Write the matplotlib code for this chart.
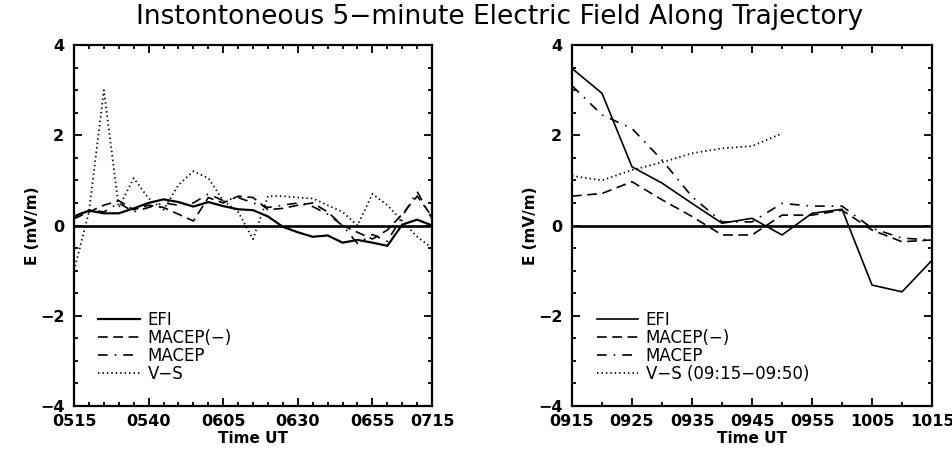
import matplotlib
matplotlib.use("Agg")
import matplotlib.pyplot as plt
from matplotlib.ticker import FixedLocator, MultipleLocator, FixedFormatter

plt.rcParams['font.family'] = ['DejaVu Sans']
plt.rcParams['lines.scale_dashes'] = False

# ---------------- data: left panel (05:15-07:15) ----------------
left_times = ["0515", "0520", "0525", "0530", "0535", "0540", "0545", "0550", "0555",
              "0600", "0605", "0610", "0615", "0620", "0625", "0630", "0635", "0640",
              "0645", "0650", "0655", "0700", "0705", "0710", "0715"]
left_efi = [0.20, 0.33, 0.27, 0.27, 0.38, 0.50, 0.58, 0.52, 0.42,
            0.52, 0.43, 0.36, 0.34, 0.20, -0.03, -0.15, -0.25, -0.22,
            -0.38, -0.32, -0.38, -0.45, 0.02, 0.13, 0.00]
left_macep_neg = [0.15, 0.30, 0.45, 0.55, 0.35, 0.45, 0.40, 0.25, 0.10,
                  0.62, 0.50, 0.65, 0.62, 0.35, 0.38, 0.45, 0.50, 0.30,
                  0.00, -0.15, -0.30, -0.10, 0.25, 0.65, 0.20]
left_macep = [0.20, 0.35, 0.30, 0.50, 0.30, 0.40, 0.50, 0.45, 0.50,
              0.70, 0.55, 0.62, 0.50, 0.40, 0.45, 0.50, 0.42, 0.25,
              0.00, -0.40, -0.20, -0.35, 0.20, 0.75, 0.15]
left_vs = [-1.00, 0.30, 3.00, 0.40, 1.05, 0.60, 0.35, 0.90, 1.20,
           1.05, 0.55, 0.30, -0.30, 0.65, 0.65, 0.62, 0.60, 0.45,
           0.30, 0.00, 0.70, 0.45, 0.10, -0.25, -0.50]
left_tick_labels = ["0515", "0540", "0605", "0630", "0655", "0715"]

# ---------------- data: right panel (09:15-10:15) ----------------
right_times = ["0915", "0920", "0925", "0930", "0935", "0940", "0945",
               "0950", "0955", "1000", "1005", "1010", "1015"]
right_efi = [3.48, 2.93, 1.30, 0.94, 0.49, 0.05, 0.16,
             -0.21, 0.27, 0.36, -1.32, -1.47, -0.77]
right_macep_neg = [0.65, 0.71, 0.97, 0.57, 0.20, -0.21, -0.21,
                   0.23, 0.23, 0.34, -0.10, -0.36, -0.32]
right_macep = [3.10, 2.45, 2.15, 1.45, 0.64, 0.08, 0.08,
               0.49, 0.43, 0.43, -0.06, -0.28, -0.32]
vs_times = ["0915", "0920", "0925", "0930", "0935", "0940", "0945", "0950"]
right_vs = [1.10, 1.00, 1.23, 1.40, 1.60, 1.71, 1.76, 2.04]
right_tick_labels = ["0915", "0925", "0935", "0945", "0955", "1005", "1015"]

title = "Instontoneous 5\u2212minute Electric Field Along Trajectory"
left_legend = ["EFI", "MACEP(\u2212)", "MACEP", "V\u2212S"]
right_legend = ["EFI", "MACEP(\u2212)", "MACEP", "V\u2212S (09:15\u221209:50)"]


def tmin(s):
    return int(s[:2]) * 60 + int(s[2:])


DASHED = (0, (7, 4))
DASHDOT = (0, (7, 5, 1.2, 5))
DOTTED = (0, (1.0, 2.2))

fig = plt.figure(figsize=(9.53, 4.57), dpi=100)
ax1 = fig.add_axes([0.0777, 0.1116, 0.3757, 0.7899])
ax2 = fig.add_axes([0.6002, 0.1116, 0.3778, 0.7899])


def style_axes(ax, tick_labels, minor_step):
    majors = [tmin(t) for t in tick_labels]
    ax.set_xlim(majors[0], majors[-1])
    ax.set_ylim(-4, 4)
    ax.xaxis.set_major_locator(FixedLocator(majors))
    ax.xaxis.set_major_formatter(FixedFormatter(tick_labels))
    ax.xaxis.set_minor_locator(MultipleLocator(minor_step))
    ax.yaxis.set_major_locator(FixedLocator([-4, -2, 0, 2, 4]))
    ax.yaxis.set_minor_locator(MultipleLocator(0.5))
    ax.tick_params(which='both', direction='in', top=True, right=True, width=1.3)
    ax.tick_params(which='major', length=6)
    ax.tick_params(which='minor', length=3)
    ax.tick_params(axis='x', which='major', pad=6, labelsize=11.5)
    ax.tick_params(axis='y', which='major', pad=7, labelsize=11.5)
    for lab in ax.get_xticklabels() + ax.get_yticklabels():
        lab.set_fontweight('bold')
    for sp in ax.spines.values():
        sp.set_linewidth(1.6)
    ax.axhline(0, color='black', lw=1.9, zorder=1)
    ax.set_xlabel("Time UT", fontsize=11, fontweight='bold', labelpad=1)
    ax.set_ylabel("E (mV/m)", fontsize=11, fontweight='bold', labelpad=0)


# left panel
lx = [tmin(t) for t in left_times]
h1, = ax1.plot(lx, left_efi, color='black', lw=1.6, ls='-')
h2, = ax1.plot(lx, left_macep_neg, color='black', lw=1.2, ls=DASHED)
h3, = ax1.plot(lx, left_macep, color='black', lw=1.2, ls=DASHDOT)
h4, = ax1.plot(lx, left_vs, color='black', lw=1.3, ls=DOTTED)
style_axes(ax1, left_tick_labels, 5)
ax1.legend([h1, h2, h3, h4], left_legend, loc='lower left',
           bbox_to_anchor=(0.045, 0.04), frameon=False, fontsize=12,
           handlelength=2.5, handletextpad=0.45, labelspacing=0.0, borderpad=0)

# right panel
rx = [tmin(t) for t in right_times]
vx = [tmin(t) for t in vs_times]
g1, = ax2.plot(rx, right_efi, color='black', lw=1.2, ls='-')
g2, = ax2.plot(rx, right_macep_neg, color='black', lw=1.2, ls=DASHED)
g3, = ax2.plot(rx, right_macep, color='black', lw=1.2, ls=DASHDOT)
g4, = ax2.plot(vx, right_vs, color='black', lw=1.3, ls=DOTTED)
style_axes(ax2, right_tick_labels, 5)
ax2.legend([g1, g2, g3, g4], right_legend, loc='lower left',
           bbox_to_anchor=(0.045, 0.04), frameon=False, fontsize=12,
           handlelength=2.5, handletextpad=0.45, labelspacing=0.0, borderpad=0)

fig.text(0.524, 0.962, title, ha='center', va='center', fontsize=19)

fig.savefig("out.png", dpi=100)
